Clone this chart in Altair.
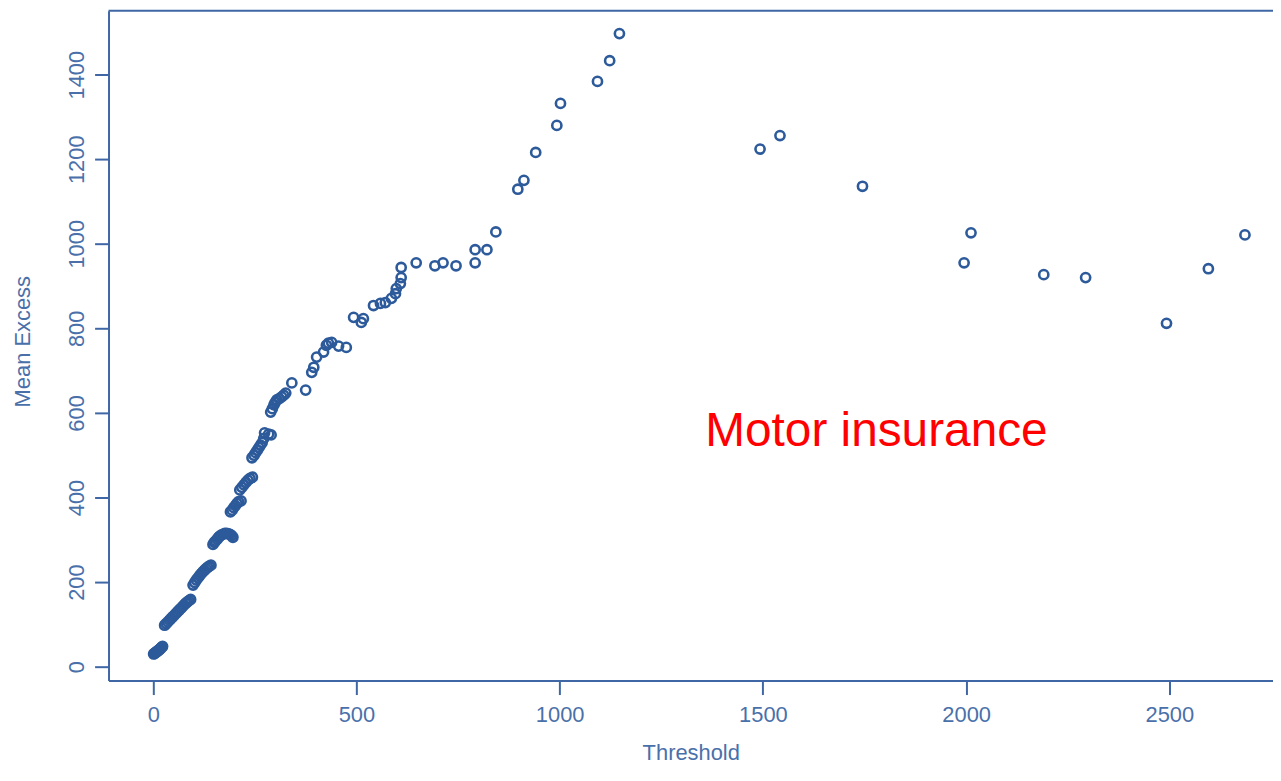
import altair as alt
import pandas as pd

threshold = [
    1, 3, 5, 7, 9, 11, 13, 15, 17, 19, 21, 23,
    28, 32, 36, 40, 44, 48, 52, 56, 60, 64, 68, 72, 76, 80, 84, 88, 92,
    98, 102, 106, 110, 114, 118, 122, 126, 130, 134, 138, 142,
    147, 150, 153, 157, 160, 163, 167, 171, 176, 181, 185, 189, 193, 196,
    190, 194, 198, 202, 206, 210, 216,
    213, 218, 223, 228, 233, 238, 244,
    243, 248, 252, 256, 260, 264, 268, 272, 274, 284, 290,
    289, 293, 297, 300, 304, 310, 316, 321, 326, 341, 375,
    390, 395, 402, 419, 426, 431, 439, 456, 475,
    493, 512, 517, 542, 559, 571, 586, 596, 598, 608, 610, 610, 647,
    693, 713, 745, 792, 792, 821, 843,
    897, 912, 941, 993, 1002, 1093, 1123, 1147,
    1493, 1542, 1745, 1995, 2012, 2191, 2294, 2493, 2596, 2686,
]
mean_excess = [
    30, 31, 33, 34, 36, 37, 39, 40, 42, 44, 46, 48,
    98, 102, 106, 110, 114, 118, 122, 126, 130, 134, 138, 142, 146, 150, 153, 156, 159,
    193, 199, 205, 210, 215, 220, 224, 228, 232, 235, 238, 240,
    289, 294, 297, 301, 305, 308, 311, 313, 315, 315, 314, 313, 310, 306,
    366, 370, 376, 381, 386, 390, 392,
    418, 424, 430, 436, 441, 445, 448,
    494, 500, 506, 512, 518, 524, 530, 540, 553, 550, 548,
    602, 610, 619, 625, 631, 634, 638, 642, 647, 671, 654,
    696, 708, 732, 744, 760, 765, 767, 758, 755,
    826, 814, 823, 854, 859, 861, 871, 882, 894, 906, 920, 944, 955,
    948, 955, 948, 955, 986, 986, 1028,
    1129, 1150, 1216, 1280, 1332, 1384, 1433, 1497,
    1224, 1256, 1136, 955, 1026, 927, 920, 812, 941, 1021,
]

x_ticks = [0, 500, 1000, 1500, 2000, 2500]
y_ticks = [0, 200, 400, 600, 800, 1000, 1200, 1400]

annot_x = [1358]
annot_y = [555]
annot_text = ["Motor insurance"]

df = pd.DataFrame({"Threshold": threshold, "MeanExcess": mean_excess})
label_df = pd.DataFrame({"x": annot_x, "y": annot_y, "text": annot_text})
frame_df = pd.DataFrame({"a": [0]})

W, H = 1170, 673
xs = alt.Scale(domain=[-110, 2755], nice=False, zero=False)
ys = alt.Scale(domain=[-33, 1551], nice=False, zero=False)

line_color = "#3f67a5"
label_color = "#4a70aa"
point_color = "#2c5a9a"
font = "Liberation Sans"

points = alt.Chart(df).mark_point(
    shape="circle", filled=False, size=85, strokeWidth=2.6, color=point_color, opacity=1
).encode(
    x=alt.X("Threshold:Q", scale=xs, axis=alt.Axis(
        values=x_ticks, format="d", title="Threshold", grid=False, tickSize=14,
        labelPadding=10, titleY=62, titleBaseline="top", titleAlign="center",
        labelFlush=False, labelOverlap=False)),
    y=alt.Y("MeanExcess:Q", scale=ys, axis=alt.Axis(
        values=y_ticks, format="d", title="Mean Excess", grid=False, tickSize=14,
        labelAngle=270, labelAlign="center", labelBaseline="bottom",
        labelPadding=6, titleAngle=270, titleX=-86, titleY=332,
        titleAlign="center", titleBaseline="middle",
        labelFlush=False, labelOverlap=False)),
)

top_line = alt.Chart(frame_df).mark_rule(color=line_color, strokeWidth=2).encode(
    x=alt.value(0), x2=alt.value(W), y=alt.value(0)
)

text = alt.Chart(label_df).mark_text(
    align="left", baseline="middle", fontSize=48, color="#ff0000", font=font
).encode(
    x=alt.X("x:Q", scale=xs),
    y=alt.Y("y:Q", scale=ys),
    text="text:N",
)

chart = alt.layer(points, top_line, text).properties(
    width=W, height=H,
    padding={"left": 101, "top": 1, "right": 0, "bottom": 86},
    autosize=alt.AutoSizeParams(type="none"),
).configure_view(stroke=None).configure_axis(
    domainColor=line_color, domainWidth=2, tickColor=line_color, tickWidth=2,
    labelColor=label_color, labelFont=font, labelFontSize=22,
    titleColor=label_color, titleFont=font, titleFontSize=22, titleFontWeight="normal",
)

chart.save("out.html", embed_options={"renderer": "svg", "actions": False})
